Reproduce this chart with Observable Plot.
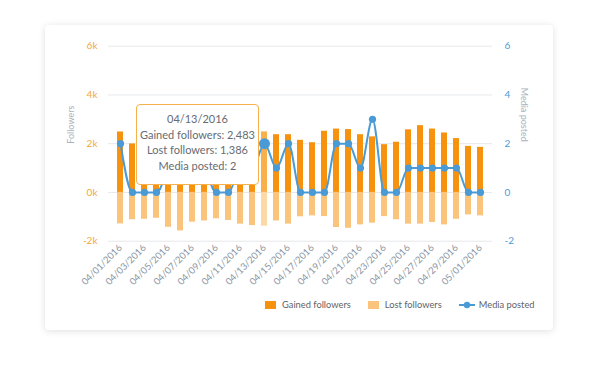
<!DOCTYPE html>
<html><head><meta charset="utf-8">
<script src="https://cdn.jsdelivr.net/npm/d3@7"></script>
<script src="https://cdn.jsdelivr.net/npm/@observablehq/plot@0.6"></script>
<style>
body{margin:0;background:#fff;font-family:Lato,sans-serif;}
#wrap{position:relative;width:600px;height:370px;overflow:hidden;}
#card{position:absolute;left:45px;top:25px;width:508px;height:305px;background:#fff;border-radius:4px;box-shadow:0 1px 7px rgba(0,0,0,0.13);}
#chart{position:absolute;left:0;top:0;}
#tip{position:absolute;width:121px;height:73px;border:1.5px solid #f6b14e;border-radius:4px;background:#fff;color:#666c73;font-size:11px;line-height:15.6px;text-align:center;padding-top:6px;box-sizing:content-box;}
#legend{position:absolute;left:265px;top:299px;font-size:9.3px;color:#5f6368;display:flex;align-items:center;}
.item{display:flex;align-items:center;margin-right:17px;}
.sw{width:11px;height:8px;margin-right:6px;}
</style></head>
<body>
<div id="wrap">
  <div id="card"></div>
  <div id="chart"></div>
  <div id="tip"></div>
  <div id="legend"></div>
</div>
<script>
const dates = ["04/01/2016","04/02/2016","04/03/2016","04/04/2016","04/05/2016","04/06/2016","04/07/2016","04/08/2016","04/09/2016","04/10/2016","04/11/2016","04/12/2016","04/13/2016","04/14/2016","04/15/2016","04/16/2016","04/17/2016","04/18/2016","04/19/2016","04/20/2016","04/21/2016","04/22/2016","04/23/2016","04/24/2016","04/25/2016","04/26/2016","04/27/2016","04/28/2016","04/29/2016","04/30/2016","05/01/2016"];
const gained = [2480,1990,2300,2400,2550,2250,2600,2350,2450,2150,2500,2400,2483,2370,2370,2140,2040,2510,2600,2580,2370,2280,1960,2060,2570,2740,2600,2440,2210,1890,1850];
const lost = [1290,1120,1100,1060,1430,1580,1220,1170,1080,1150,1300,1360,1386,1170,1300,1000,960,990,1440,1470,1330,1260,990,1120,1300,1300,1230,1330,1100,920,960];
const media = [2,0,0,0,1,2,2,1,0,0,1,1,2,1,2,0,0,0,2,2,1,3,0,0,1,1,1,1,1,0,0];
const yTicks = [-2000,0,2000,4000,6000];
const highlight = "04/13/2016";
const seriesNames = ["Gained followers","Lost followers","Media posted"];

const C_GAIN = "#f7920f", C_LOST = "#fbc47c", C_GAIN_H = "#f9b04a", C_LOST_H = "#fdd9a6", C_LINE = "#4a9bd5";

const data = dates.map((d,i)=>({date:d, gained:gained[i], lost:-lost[i], media:media[i], m:media[i]*1000}));
const isH = d => d.date === highlight;
const notH = d => d.date !== highlight;

const chart = Plot.plot({
  width:600, height:290,
  marginTop:45.7, marginBottom:49.3, marginLeft:108, marginRight:108,
  style:{fontFamily:"Lato, sans-serif", background:"transparent", overflow:"visible"},
  x:{type:"band", domain:dates, padding:0.47},
  y:{domain:[-2000,6000]},
  marks:[
    Plot.ruleY(yTicks, {stroke:"#e7e8ea", strokeWidth:1}),
    Plot.barY(data, {filter:notH, x:"date", y:"gained", fill:C_GAIN}),
    Plot.barY(data, {filter:isH, x:"date", y:"gained", fill:C_GAIN_H}),
    Plot.barY(data, {filter:notH, x:"date", y:"lost", fill:C_LOST}),
    Plot.barY(data, {filter:isH, x:"date", y:"lost", fill:C_LOST_H}),
    Plot.line(data, {x:"date", y:"m", stroke:C_LINE, strokeWidth:2, curve:"monotone-x"}),
    Plot.dot(data, {filter:notH, x:"date", y:"m", r:3.6, fill:C_LINE}),
    Plot.dot(data, {filter:isH, x:"date", y:"m", r:5.5, fill:C_LINE}),
    Plot.axisY({ticks:yTicks, tickFormat:d=>d/1000+"k", tickSize:0, tickPadding:11, label:null, color:"#f4a73b", fontSize:10}),
    Plot.axisY({anchor:"right", ticks:yTicks, tickFormat:d=>String(d/1000), tickSize:0, tickPadding:12, label:null, color:"#4a9bd5", fontSize:10}),
    Plot.axisX({ticks:dates.filter((d,i)=>i%2===0), tickRotate:-45, tickSize:0, tickPadding:5, label:null, color:"#8a95a3", fontSize:9.5}),
    Plot.text(["Followers"], {text:d=>d, frameAnchor:"left", dx:-37, rotate:-90, fill:"#aab2bb", fontSize:9}),
    Plot.text(["Media posted"], {text:d=>d, frameAnchor:"right", dx:31, dy:-2, rotate:90, fill:"#aab2bb", fontSize:9})
  ]
});
document.getElementById("chart").appendChild(chart);

// tooltip anchored to the highlighted point
const xs = chart.scale("x"), ys = chart.scale("y");
const hi = dates.indexOf(highlight);
const cx = xs.apply(highlight) + xs.bandwidth/2;
const cy = ys.apply(media[hi]*1000);
const tip = document.getElementById("tip");
tip.style.left = (cx - 4 - 124) + "px";
tip.style.top = (cy - 39) + "px";
tip.innerHTML = `${highlight}<br>${seriesNames[0]}: ${d3.format(",")(gained[hi])}<br>${seriesNames[1]}: ${d3.format(",")(lost[hi])}<br>${seriesNames[2]}: ${media[hi]}`;

// legend
const lg = document.getElementById("legend");
lg.innerHTML = `
<div class="item"><div class="sw" style="background:${C_GAIN}"></div>${seriesNames[0]}</div>
<div class="item"><div class="sw" style="background:${C_LOST}"></div>${seriesNames[1]}</div>
<div class="item"><svg width="16" height="8" style="margin-right:4px"><line x1="0" y1="4" x2="16" y2="4" stroke="${C_LINE}" stroke-width="2"/><circle cx="8" cy="4" r="3.2" fill="${C_LINE}"/></svg>${seriesNames[2]}</div>`;
</script>
</body></html>
